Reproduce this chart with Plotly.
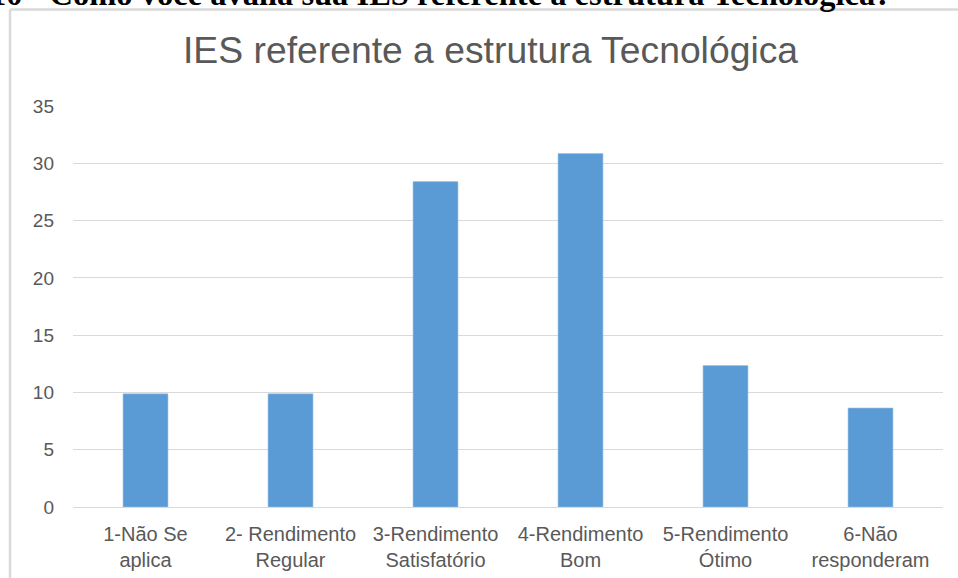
import plotly.graph_objects as go

# Data (percent of respondents)
categories = ["1-Não Se<br>aplica", "2- Rendimento<br>Regular", "3-Rendimento<br>Satisfatório",
              "4-Rendimento<br>Bom", "5-Rendimento<br>Ótimo", "6-Não<br>responderam"]
values = [9.88, 9.88, 28.40, 30.86, 12.35, 8.64]
y_ticks = [0, 5, 10, 15, 20, 25, 30, 35]

title_text = "IES referente a estrutura Tecnológica"
header_text = "10 - Como você avalia sua IES referente a estrutura Tecnológica?"

W, H = 958, 578
L, R, T, B = 73, 15, 106, 71
PW = W - L - R
PH = H - T - B

def px(x):
    return (x - L) / PW

def py(y):
    return (H - B - y) / PH

fig = go.Figure()
fig.add_trace(go.Bar(
    x=categories, y=values,
    marker=dict(color="#5B9BD5", line=dict(color="#9DC3E6", width=0.6)),
    hoverinfo="skip",
))

fig.update_layout(
    width=W, height=H,
    margin=dict(l=L, r=R, t=T, b=B, autoexpand=False),
    paper_bgcolor="white", plot_bgcolor="white",
    bargap=0.69,
    showlegend=False,
    font=dict(family="Liberation Sans, Arial, sans-serif", color="#595959"),
)
fig.update_xaxes(
    showgrid=False, showline=True, linecolor="#d9d9d9", linewidth=1,
    ticks="", tickfont=dict(size=20, color="#595959"),
    ticklabelstandoff=9,
)
fig.update_yaxes(
    range=[0, 35], tickvals=y_ticks, showgrid=True, gridcolor="#d9d9d9", gridwidth=1,
    zeroline=False, showline=False, ticks="",
    tickfont=dict(size=19, color="#595959"), ticklabelstandoff=18,
)

# Chart title
fig.add_annotation(
    text=title_text, xref="paper", yref="paper", x=px(490), y=py(50),
    xanchor="center", yanchor="middle", showarrow=False,
    font=dict(size=37.3, color="#595959", family="Liberation Sans, Arial, sans-serif"),
)
# Cropped document header
fig.add_annotation(
    text="<b>" + header_text + "</b>", xref="paper", yref="paper", x=px(893), y=py(-6),
    xanchor="right", yanchor="middle", showarrow=False,
    font=dict(size=32.5, color="black", family="Liberation Serif, Times New Roman, serif"),
)
# Chart frame (left and top edges)
fig.add_shape(type="line", xref="paper", yref="paper",
              x0=px(10), y0=py(600), x1=px(10), y1=py(9.5),
              line=dict(color="#d9d9d9", width=2.5))
fig.add_shape(type="line", xref="paper", yref="paper",
              x0=px(10), y0=py(9.5), x1=px(980), y1=py(9.5),
              line=dict(color="#d9d9d9", width=2.5))

fig.write_html("out.html", config={"displayModeBar": False},
               post_script="document.body.style.margin='0';")
